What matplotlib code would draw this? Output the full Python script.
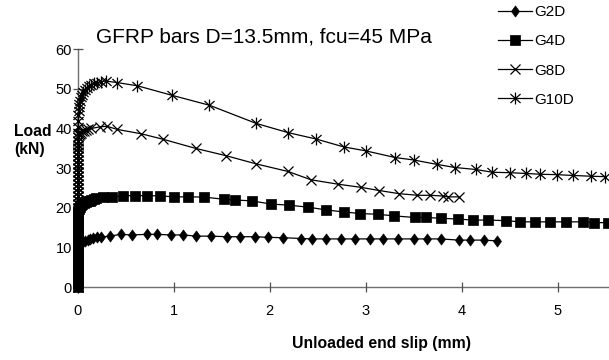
import matplotlib
matplotlib.use("Agg")
import matplotlib.pyplot as plt
from matplotlib.path import Path

plt.rcParams['font.family'] = ['Liberation Sans', 'DejaVu Sans']

# ---------------- data (slip mm, load kN) ----------------
g2d_x = [0, 0, 0, 0, 0, 0, 0, 0, 0, 0, 0, 0, 0, 0, 0, 0, 0, 0, 0, 0, 0,
         0.005, 0.01, 0.02, 0.04, 0.07, 0.1, 0.13, 0.16, 0.2, 0.24,
         0.33, 0.445, 0.56, 0.72, 0.82, 0.97, 1.10, 1.23, 1.39, 1.55, 1.69, 1.85,
         1.98, 2.14, 2.33, 2.44, 2.59, 2.74, 2.89, 3.04, 3.18, 3.34, 3.50, 3.64,
         3.78, 3.97, 4.09, 4.23, 4.37]
g2d_y = [0, 0.5, 1, 1.5, 2, 2.5, 3, 3.5, 4, 4.5, 5, 5.5, 6, 6.5, 7, 7.5, 8, 8.5, 9, 9.5, 10,
         10.3, 10.6, 10.9, 11.2, 11.6, 11.9, 12.2, 12.4, 12.6, 12.7,
         12.9, 13.35, 13.2, 13.35, 13.35, 13.2, 13.2, 12.9, 12.9, 12.75, 12.75, 12.75,
         12.6, 12.5, 12.3, 12.2, 12.2, 12.2, 12.2, 12.2, 12.2, 12.2, 12.2, 12.2,
         12.2, 11.9, 11.9, 11.9, 11.7]

g4d_x = [0, 0, 0, 0, 0, 0, 0, 0, 0, 0, 0, 0, 0, 0, 0, 0, 0, 0, 0, 0,
         0.005, 0.01, 0.02, 0.03, 0.045, 0.06, 0.08, 0.1, 0.12, 0.14, 0.17, 0.19,
         0.26, 0.35, 0.47, 0.59, 0.72, 0.855, 1.00, 1.15, 1.31, 1.52, 1.64, 1.81,
         2.01, 2.20, 2.40, 2.59, 2.77, 2.94, 3.13, 3.30, 3.51, 3.63, 3.79, 3.96,
         4.12, 4.28, 4.46, 4.61, 4.77, 4.92, 5.09, 5.27, 5.38, 5.53]
g4d_y = [0, 1, 2, 3, 4, 5, 6, 7, 8, 9, 10, 11, 12, 13, 14, 15, 16, 17, 18, 18.7,
         19.2, 19.8, 20.3, 20.7, 21.0, 21.2, 21.5, 21.7, 21.85, 22.0, 22.2, 22.4,
         22.7, 22.7, 23.1, 23.1, 23.1, 23.05, 22.8, 22.8, 22.75, 22.2, 22.0, 21.8,
         21.0, 20.7, 20.2, 19.5, 19.0, 18.6, 18.4, 18.0, 17.6, 17.6, 17.4, 17.2,
         16.95, 16.95, 16.8, 16.5, 16.5, 16.5, 16.5, 16.5, 16.3, 16.3]

g8d_x = [0, 0, 0, 0, 0, 0, 0, 0, 0, 0, 0, 0, 0, 0, 0, 0, 0, 0, 0, 0,
         0, 0, 0, 0, 0, 0, 0, 0, 0, 0, 0, 0, 0, 0, 0, 0, 0, 0,
         0.005, 0.01, 0.02, 0.03, 0.045, 0.06, 0.08, 0.1, 0.14, 0.23, 0.30,
         0.41, 0.66, 0.89, 1.23, 1.54, 1.86, 2.19, 2.43, 2.71, 2.95, 3.14,
         3.35, 3.54, 3.67, 3.81, 3.86, 3.97]
g8d_y = [0, 1, 2, 3, 4, 5, 6, 7, 8, 9, 10, 11, 12, 13, 14, 15, 16, 17, 18, 19,
         20, 21, 22, 23, 24, 25, 26, 27, 28, 29, 30, 31, 32, 33, 34, 35, 36, 37,
         37.8, 38.3, 38.7, 39.0, 39.3, 39.5, 39.7, 39.9, 40.05, 40.45, 40.6,
         39.8, 38.7, 37.3, 35.0, 33.2, 31.1, 29.2, 27.1, 26.0, 25.2, 24.4,
         23.6, 23.2, 23.2, 23.0, 22.8, 22.8]

g10d_x = [0, 0, 0, 0, 0, 0, 0, 0, 0, 0, 0, 0, 0, 0, 0, 0, 0, 0, 0, 0,
          0, 0, 0, 0, 0, 0, 0, 0, 0, 0, 0, 0, 0, 0, 0, 0, 0, 0, 0, 0, 0.001, 0.002,
          0.003, 0.006, 0.01, 0.015, 0.02, 0.03, 0.04, 0.055, 0.07, 0.09, 0.11,
          0.14, 0.17, 0.2, 0.24, 0.29, 0.41, 0.62, 0.98, 1.37, 1.86, 2.19, 2.48,
          2.77, 3.00, 3.31, 3.50, 3.74, 3.93, 4.15, 4.32, 4.50, 4.67, 4.82, 4.99,
          5.16, 5.35, 5.50]
g10d_y = [0, 1, 2, 3, 4, 5, 6, 7, 8, 9, 10, 11, 12, 13, 14, 15, 16, 17, 18, 19,
          20, 21, 22, 23, 24, 25, 26, 27, 28, 29, 30, 31, 32, 33, 34, 35, 36, 37, 38, 39, 40.5, 42,
          43.5, 44.5, 45.5, 46.3, 47.0, 48.0, 48.6, 49.3, 49.8, 50.3, 50.7,
          51.1, 51.4, 51.6, 51.8, 52.0, 51.6, 50.8, 48.4, 45.9, 41.3, 39.0, 37.4,
          35.4, 34.4, 32.7, 32.1, 31.0, 30.2, 29.7, 29.0, 28.9, 28.7, 28.5, 28.4,
          28.2, 28.0, 27.9]

labels = ["G2D", "G4D", "G8D", "G10D"]
x_ticks = [0, 1, 2, 3, 4, 5]
y_ticks = [0, 10, 20, 30, 40, 50, 60]
title = "GFRP bars D=13.5mm, fcu=45 MPa"
xlabel = "Unloaded end slip (mm)"
ylabel = "Load\n(kN)"

# ---------------- marker shapes ----------------
diamond = Path([(0, 1), (0.72, 0), (0, -1), (-0.72, 0), (0, 1)],
               [Path.MOVETO, Path.LINETO, Path.LINETO, Path.LINETO, Path.CLOSEPOLY])
rect = Path([(-0.85, -1), (0.85, -1), (0.85, 1), (-0.85, 1), (-0.85, -1)],
            [Path.MOVETO, Path.LINETO, Path.LINETO, Path.LINETO, Path.CLOSEPOLY])
aster = Path([(0, -1), (0, 1), (-0.85, -0.75), (0.85, 0.75), (-0.85, 0.75), (0.85, -0.75)],
             [Path.MOVETO, Path.LINETO, Path.MOVETO, Path.LINETO, Path.MOVETO, Path.LINETO])

W, H = 609, 360
fig = plt.figure(figsize=(W / 100, H / 100), dpi=100)
x0, y0, ytop = 78, 287.3, 49.3
ax = fig.add_axes([x0 / W, 1 - y0 / H, 1 - x0 / W, (y0 - ytop) / H])

lw = 0.9
ax.plot(g2d_x, g2d_y, color='black', lw=lw, marker=diamond, ms=8, mfc='black', mec='black',
        mew=0.5, label=labels[0], clip_on=False)
ax.plot(g4d_x, g4d_y, color='black', lw=lw, marker=rect, ms=7.8, mfc='black', mec='black',
        mew=0.5, label=labels[1], clip_on=False)
ax.plot(g8d_x, g8d_y, color='black', lw=lw, marker='x', ms=7, mec='black', mew=0.9,
        label=labels[2], clip_on=False)
ax.plot(g10d_x, g10d_y, color='black', lw=lw, marker=aster, ms=8.6, mfc='none', mec='black',
        mew=0.9, label=labels[3], clip_on=False)

xmax = (W - x0) / 95.9
ax.set_xlim(0, xmax)
ax.set_ylim(0, 60)
ax.set_xticks(x_ticks)
ax.set_yticks(y_ticks)
for s in ['top', 'right']:
    ax.spines[s].set_visible(False)
for s in ['left', 'bottom']:
    ax.spines[s].set_color('#707070')
    ax.spines[s].set_linewidth(1.0)
    ax.spines[s].set_zorder(0.5)
ax.tick_params(axis='x', direction='inout', length=7, width=0.9, color='#505050',
               labelsize=10.5, pad=8.5)
ax.tick_params(axis='y', direction='inout', length=6.5, width=0.9, color='#505050',
               labelsize=10.5, pad=1)
ax.patch.set_visible(False)

fig.text(264 / W, 1 - 42.3 / H, title, ha='center', va='baseline', fontsize=15)
fig.text(382 / W, 1 - 348.3 / H, xlabel, ha='center', va='baseline', fontsize=11.3,
         fontweight='bold')
fig.text(14 / W, 1 - 124.3 / H, ylabel, ha='left', va='top', fontsize=11.3,
         fontweight='bold', linespacing=1.2)

fig.legend(loc='upper left', bbox_to_anchor=(498 / W, 1 - 5.0 / H), frameon=False,
           prop={'size': 11}, handlelength=2.2, handletextpad=0.15, labelspacing=1.0,
           borderpad=0, borderaxespad=0, markerscale=1.0)

fig.savefig('out.png', dpi=100)
